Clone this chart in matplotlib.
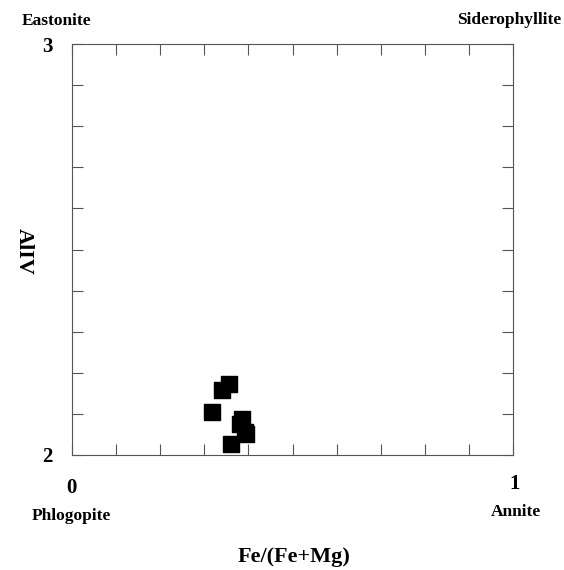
import matplotlib
matplotlib.use("Agg")
import matplotlib.pyplot as plt
from matplotlib.ticker import MultipleLocator

plt.rcParams['font.family'] = ['Liberation Serif', 'DejaVu Serif']

# biotite compositions
fe_ratio = [0.340, 0.355, 0.317, 0.385, 0.382, 0.392, 0.360, 0.394]
al_iv = [2.159, 2.173, 2.105, 2.088, 2.075, 2.055, 2.027, 2.050]

fig = plt.figure(figsize=(5.64, 5.70), dpi=100)
ax = fig.add_axes([72 / 564, 1 - 455 / 570, 441 / 564, 411 / 570])

ax.scatter(fe_ratio, al_iv, marker='s', s=120, color='black', zorder=3)

ax.set_xlim(0, 1)
ax.set_ylim(2, 3)
ax.xaxis.set_major_locator(MultipleLocator(0.1))
ax.yaxis.set_major_locator(MultipleLocator(0.1))
ax.tick_params(direction='in', length=8, width=0.8, color='#555555',
               top=True, right=True, labelbottom=False, labelleft=False)
for s in ax.spines.values():
    s.set_linewidth(0.8)
    s.set_color('#555555')

bold = dict(fontweight='bold')
# end-member / axis value labels
fig.text(57 / 564, 1 - 21 / 570, 'Eastonite', ha='center', va='center', fontsize=12.5, **bold)
fig.text(509 / 564, 1 - 20 / 570, 'Siderophyllite', ha='center', va='center', fontsize=12.5, **bold)
fig.text(71 / 564, 1 - 516 / 570, 'Phlogopite', ha='center', va='center', fontsize=12.5, **bold)
fig.text(516 / 564, 1 - 512 / 570, 'Annite', ha='center', va='center', fontsize=12.5, **bold)
fig.text(47 / 564, 1 - 47 / 570, '3', ha='center', va='center', fontsize=15, **bold)
fig.text(47 / 564, 1 - 457 / 570, '2', ha='center', va='center', fontsize=15, **bold)
fig.text(71 / 564, 1 - 488 / 570, '0', ha='center', va='center', fontsize=15, **bold)
fig.text(515 / 564, 1 - 484 / 570, '1', ha='center', va='center', fontsize=15, **bold)

fig.text(294 / 564, 1 - 557 / 570, 'Fe/(Fe+Mg)', ha='center', va='center', fontsize=16, **bold)
fig.text(24 / 564, 1 - 251 / 570, 'AlIV', ha='center', va='center', fontsize=16,
         rotation=270, **bold)

fig.savefig('out.png', dpi=100, facecolor='white')
